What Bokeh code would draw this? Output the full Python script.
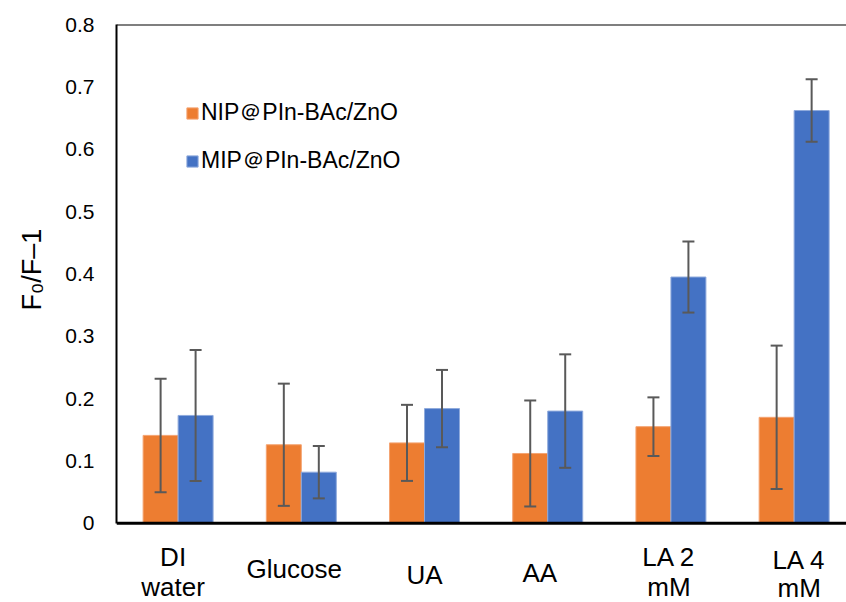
from bokeh.plotting import figure
from bokeh.models import (ColumnDataSource, Whisker, TeeHead, Span, Title,
                          Legend, LegendItem, Range1d, FixedTicker)
from bokeh.core.properties import value
from bokeh.embed import file_html
from bokeh.resources import INLINE

# ---- data ----
categories = ["DI water", "Glucose", "UA", "AA", "LA 2 mM", "LA 4 mM"]
category_lines = [["DI", "water"], ["Glucose"], ["UA"], ["AA"], ["LA 2", "mM"], ["LA 4", "mM"]]
nip_mean = [0.141, 0.126, 0.129, 0.112, 0.155, 0.170]
nip_err = [0.091, 0.098, 0.061, 0.085, 0.047, 0.115]
mip_mean = [0.173, 0.082, 0.184, 0.180, 0.395, 0.662]
mip_err = [0.105, 0.042, 0.062, 0.091, 0.057, 0.050]
y_ticks = [0, 0.1, 0.2, 0.3, 0.4, 0.5, 0.6, 0.7, 0.8]
series_names = ["NIP\uff20PIn-BAc/ZnO", "MIP\uff20PIn-BAc/ZnO"]

# ---- styling ----
FONT = "Liberation Sans"
ORANGE = "#ED7D31"
BLUE = "#4472C4"
ERR = "#595959"
BAR_W = 0.284          # width of one bar, in category units
Y_MAX = 0.8
Y_MIN = -0.127         # room under the axis for the category names
# per-label layout: horizontal shift and vertical drop (px below the x axis)
label_dx = [-5, -7, 0, -8, -2, 5]
label_base = [[34, 64], [46], [52], [50], [34, 64], [37, 65]]

centers = [i + 0.5 for i in range(len(categories))]
nip_x = [c - BAR_W / 2 for c in centers]
mip_x = [c + BAR_W / 2 for c in centers]

nip_src = ColumnDataSource(dict(
    x=nip_x, top=nip_mean,
    upper=[m + e for m, e in zip(nip_mean, nip_err)],
    lower=[m - e for m, e in zip(nip_mean, nip_err)]))
mip_src = ColumnDataSource(dict(
    x=mip_x, top=mip_mean,
    upper=[m + e for m, e in zip(mip_mean, mip_err)],
    lower=[m - e for m, e in zip(mip_mean, mip_err)]))

lab_x, lab_text, lab_dx, lab_dy = [], [], [], []
for c, lines, dx, bases in zip(centers, category_lines, label_dx, label_base):
    for txt, b in zip(lines, bases):
        lab_x.append(c)
        lab_text.append(txt)
        lab_dx.append(dx)
        lab_dy.append(b)
lab_src = ColumnDataSource(dict(x=lab_x, y=[0] * len(lab_x), text=lab_text,
                                dx=lab_dx, dy=lab_dy))

p = figure(width=846, height=602, output_backend="svg", toolbar_location=None,
           x_range=Range1d(0, 5.925), y_range=Range1d(Y_MIN, Y_MAX),
           min_border_left=116, min_border_right=0, min_border_top=24,
           min_border_bottom=0)
p.outline_line_color = None
p.background_fill_color = "white"
p.border_fill_color = "white"
p.grid.visible = False
p.xaxis.visible = False

r_nip = p.vbar(x="x", top="top", bottom=0, width=BAR_W, source=nip_src,
               fill_color=ORANGE, line_color="#F4A472", line_width=1)
r_mip = p.vbar(x="x", top="top", bottom=0, width=BAR_W, source=mip_src,
               fill_color=BLUE, line_color="#8FAADC", line_width=1)

for src in (nip_src, mip_src):
    w = Whisker(base="x", upper="upper", lower="lower", source=src,
                line_color=ERR, line_width=2,
                upper_head=TeeHead(size=12, line_color=ERR, line_width=2),
                lower_head=TeeHead(size=12, line_color=ERR, line_width=2))
    w.level = "annotation"
    p.add_layout(w)

# frame lines: top border and the category axis
p.add_layout(Span(location=Y_MAX, dimension="width", line_color="black", line_width=2))
p.add_layout(Span(location=0, dimension="width", line_color="black", line_width=3))

# category names under the axis
p.text(x="x", y="y", text="text", x_offset="dx", y_offset="dy", source=lab_src,
       text_align="center", text_baseline="alphabetic",
       text_font=value(FONT), text_font_size="26px", text_color="black")

# y axis (its line and ticks only cover 0 .. 0.8)
p.yaxis.bounds = (0, Y_MAX)
p.yaxis.ticker = FixedTicker(ticks=y_ticks)
p.yaxis.major_label_overrides = {0: "0"}
p.yaxis.major_tick_out = 0
p.yaxis.major_tick_in = 0
p.yaxis.minor_tick_out = 0
p.yaxis.minor_tick_in = 0
p.yaxis.major_label_standoff = 22
p.yaxis.major_label_text_font = FONT
p.yaxis.major_label_text_font_size = "21px"
p.yaxis.major_label_text_color = "black"
p.yaxis.axis_line_color = "black"
p.yaxis.axis_line_width = 2

# y axis title, started a fixed distance above the frame bottom
p.add_layout(Title(text="F\u2080/F\u20131", align="left", offset=292,
                   vertical_align="top",
                   text_font=FONT, text_font_size="27px",
                   text_font_style="normal", text_color="black",
                   standoff=28), "left")

legend = Legend(items=[LegendItem(label=series_names[0], renderers=[r_nip]),
                       LegendItem(label=series_names[1], renderers=[r_mip])],
                location=(69, 426), orientation="vertical",
                glyph_width=14, glyph_height=14, label_standoff=2,
                label_text_font=FONT, label_text_font_size="23px",
                label_text_color="black", spacing=17, padding=0, margin=0,
                border_line_color=None, background_fill_alpha=0)
p.add_layout(legend)

open("out.html", "w").write(file_html(p, INLINE))
